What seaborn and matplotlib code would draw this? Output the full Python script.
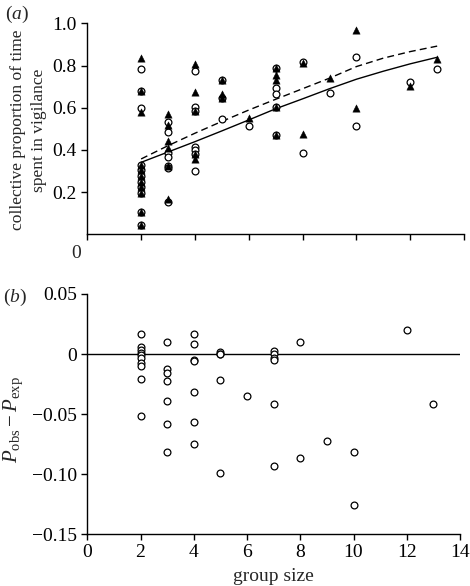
import matplotlib
matplotlib.use("Agg")
import matplotlib.pyplot as plt
import seaborn as sns
import pandas as pd

# panel (a): open circles
circ_x = [2]*11 + [3]*7 + [4]*7 + [5]*3 + [6] + [7]*5 + [8]*2 + [9] + [10]*2 + [12] + [13]
circ_y = [0.782, 0.68, 0.597, 0.328, 0.305, 0.278, 0.249, 0.223, 0.194, 0.104, 0.044,
          0.534, 0.486, 0.384, 0.368, 0.325, 0.313, 0.152,
          0.774, 0.602, 0.586, 0.415, 0.40, 0.38, 0.302,
          0.731, 0.645, 0.546,
          0.515,
          0.79, 0.692, 0.663, 0.602, 0.471,
          0.818, 0.387,
          0.67,
          0.842, 0.515,
          0.723,
          0.785]

# panel (a): filled triangles
tri_x = [2]*11 + [3]*6 + [4]*5 + [5]*3 + [6] + [7]*5 + [8]*2 + [9] + [10]*2 + [12] + [13]
tri_y = [0.834, 0.68, 0.578, 0.328, 0.305, 0.278, 0.249, 0.223, 0.194, 0.104, 0.044,
         0.569, 0.518, 0.444, 0.408, 0.325, 0.167,
         0.807, 0.676, 0.586, 0.38, 0.355,
         0.731, 0.665, 0.645,
         0.55,
         0.79, 0.755, 0.731, 0.602, 0.471,
         0.81, 0.474,
         0.742,
         0.968, 0.597,
         0.703,
         0.829]

# fitted curves
curve_x = [2, 3, 4, 5, 6, 7, 8, 9, 10, 11, 12, 13]
solid_y = [0.341, 0.39, 0.439, 0.49, 0.542, 0.595, 0.642, 0.69, 0.735, 0.773, 0.808, 0.839]
dashed_y = [0.357, 0.42, 0.479, 0.535, 0.589, 0.64, 0.69, 0.74, 0.795, 0.835, 0.866, 0.892]

# panel (b): observed - expected
diff_x = [2]*10 + [3]*7 + [4]*7 + [5]*5 + [6] + [7]*6 + [8]*2 + [9] + [10]*2 + [12] + [13]
diff_y = [0.0165, 0.006, 0.003, 0.0007, -0.001, -0.0035, -0.0077, -0.010, -0.0207, -0.0518,
          0.0104, -0.0124, -0.0157, -0.0227, -0.039, -0.0585, -0.0818,
          0.0165, 0.0082, -0.0048, -0.006, -0.0315, -0.0568, -0.0748,
          0.0018, 0.0004, -0.0004, -0.0215, -0.0993,
          -0.0346,
          0.0023, -0.0004, -0.0032, -0.0054, -0.0415, -0.093,
          0.0104, -0.0863,
          -0.0721,
          -0.0818, -0.1257,
          0.0204,
          -0.0415]

sns.set_theme(style="ticks")
plt.rcParams.update({
    "font.family": ["Liberation Serif", "DejaVu Serif"],
    "mathtext.fontset": "custom",
    "mathtext.rm": "Liberation Serif",
    "mathtext.it": "Liberation Serif:italic",
    "font.size": 14,
    "xtick.labelsize": 14,
    "ytick.labelsize": 14,
    "axes.labelsize": 14,
    "axes.linewidth": 1.0,
    "axes.edgecolor": "black",
    "xtick.color": "black",
    "ytick.color": "black",
    "xtick.major.size": 4,
    "ytick.major.size": 4,
    "xtick.major.width": 1.0,
    "ytick.major.width": 1.0,
})

fig = plt.figure(figsize=(4.7, 5.86), dpi=100)
ax1 = fig.add_axes([0.1857, 0.6002, 0.8017, 0.36])
ax2 = fig.add_axes([0.1857, 0.0887, 0.793, 0.4096])

circ = pd.DataFrame({"x": circ_x, "y": circ_y})
tri = pd.DataFrame({"x": tri_x, "y": tri_y})
curves = pd.DataFrame({"x": curve_x, "solid": solid_y, "dashed": dashed_y})
diff = pd.DataFrame({"x": diff_x, "y": diff_y})

sns.lineplot(data=curves, x="x", y="dashed", ax=ax1, color="black", lw=1.0,
             linestyle=(0, (5, 3)))
sns.lineplot(data=curves, x="x", y="solid", ax=ax1, color="black", lw=1.0)
sns.scatterplot(data=circ, x="x", y="y", ax=ax1, marker="o", s=24,
                facecolor="white", edgecolor="black", linewidth=0.9, zorder=3)
sns.scatterplot(data=tri, x="x", y="y", ax=ax1, marker="^", s=28,
                color="black", edgecolor="black", linewidth=0.3, zorder=4)

ax1.set_xlim(0, 14)
ax1.set_ylim(0, 1.0)
ax1.set_xticks(range(0, 15, 2))
ax1.set_xticklabels([])
ax1.set_yticks([0.2, 0.4, 0.6, 0.8, 1.0])
ax1.set_yticklabels(["0.2", "0.4", "0.6", "0.8", "1.0"])
ax1.set_xlabel("")
ax1.set_ylabel("collective proportion of time\nspent in vigilance", fontsize=12.6,
               linespacing=1.4)
ax1.yaxis.set_label_coords(-0.108, 0.495)
sns.despine(ax=ax1)

ax2.axhline(0, color="black", lw=1.0)
sns.scatterplot(data=diff, x="x", y="y", ax=ax2, marker="o", s=24,
                facecolor="white", edgecolor="black", linewidth=0.9, zorder=3)
ax2.set_xlim(0, 14)
ax2.set_ylim(-0.15, 0.05)
ax2.set_xticks(range(0, 15, 2))
ax2.set_yticks([-0.15, -0.10, -0.05, 0, 0.05])
ax2.set_yticklabels(["\u22120.15", "\u22120.10", "\u22120.05", "0", "0.05"])
ax2.set_xlabel("group size", labelpad=5)
ax2.set_ylabel(r"$P_{\rm obs} - P_{\rm exp}$", fontsize=15)
ax2.yaxis.set_label_coords(-0.167, 0.475)
sns.despine(ax=ax2)

fig.text(17 / 470, 1 - 14 / 586, r"($\it{a}$)", ha="center", va="center", fontsize=14)
fig.text(15 / 470, 1 - 297 / 586, r"($\it{b}$)", ha="center", va="center", fontsize=14)
fig.text(76 / 470, 1 - 253 / 586, "0", ha="center", va="center", fontsize=14)

fig.savefig("out.png", dpi=100)
